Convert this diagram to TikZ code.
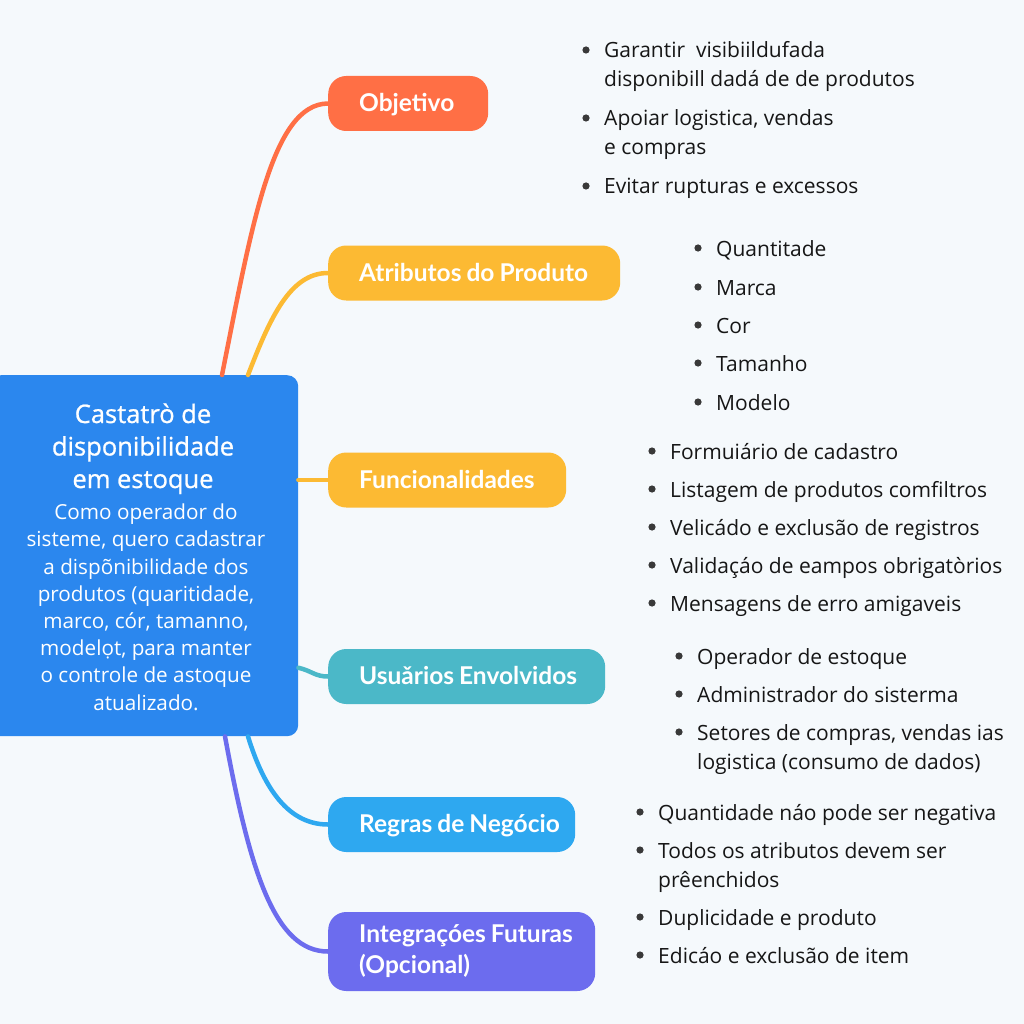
\documentclass[tikz,border=0pt]{standalone}
\usepackage{fontspec}
\setmainfont{Open Sans}
\newfontfamily\labelfont{Lato}
\newfontfamily\titlefont[FakeBold=0.9]{Open Sans}
\usetikzlibrary{calc}
\definecolor{bgc}{HTML}{F5F9FC}
\definecolor{cblue}{HTML}{2B87EE}
\definecolor{corange}{HTML}{FF6F45}
\definecolor{camber}{HTML}{FCBA33}
\definecolor{cteal}{HTML}{4BB8C8}
\definecolor{csky}{HTML}{2EA8F0}
\definecolor{cpurple}{HTML}{6C6CEE}
\definecolor{ctext}{HTML}{161616}
\tikzset{
  branch/.style={rounded corners=18pt, inner xsep=31pt, inner ysep=0pt, minimum height=55pt,
    text=white, align=left, font=\labelfont\bfseries\fontsize{24.5}{31}\selectfont,
    text height=19pt, text depth=3pt},
  link/.style={line width=4.5pt, line cap=round},
  item/.style={anchor=base west, inner sep=0pt, text=ctext, align=left,
    font=\fontsize{21}{29}\selectfont},
  dotb/.style={fill=ctext!85},
}
% bullet beside an item; optional arg = number of extra lines below the first
\newcommand{\bul}[2][0]{\fill[dotb] ($(#2.base west)+(-18,-8-29*#1)$) circle [radius=3.6pt];}
\begin{document}
\begin{tikzpicture}[x=1pt,y=-1pt]
\fill[bgc] (0,0) rectangle (1024,1024);
\useasboundingbox (0,0) rectangle (1024,1024);

% central box
\node[fill=cblue, rounded corners=11pt, minimum width=308pt, minimum height=361pt,
  anchor=north west, inner sep=0pt] (c) at (-10,375) {};
\node[anchor=base, inner sep=0pt, text=white, align=center,
  font=\titlefont\fontsize{25.5}{32.5}\selectfont] (ctitle) at (143,488)
  {Castatrò de\\disponibilidade\\em estoque};
\node[anchor=base, inner sep=0pt, text=white, align=center,
  font=\fontsize{20.7}{27.2}\selectfont] (cbody) at (146,710)
  {Como operador do\\sisteme, quero cadastrar\\a dispõnibilidade dos\\produtos (quaritidade,\\marco, cór, tamanno,\\modelọt, para manter\\o controle de astoque\\atualizado.};

% branch boxes
\node[branch, fill=corange, text width=98pt, anchor=west] (o) at (328,103.5) {\mbox{Objetivo}};
\node[branch, fill=camber, text width=230pt, anchor=west] (a) at (328,273) {\mbox{Atributos\hspace{5pt}do\hspace{5pt}Produto}};
\node[branch, fill=camber, text width=176pt, anchor=west] (f) at (328,480) {\mbox{Funcionalidades}};
\node[branch, fill=cteal, text width=215pt, anchor=west] (u) at (328,676.5) {\mbox{Usuǎrios\hspace{5pt}Envolvidos}};
\node[branch, fill=csky, text width=185pt, anchor=west] (r) at (328,824.5) {\mbox{Regras\hspace{5pt}de\hspace{5pt}Negócio}};
\node[branch, fill=cpurple, text width=205pt, anchor=west, minimum height=79pt,
  text height=, text depth=] (i) at (328,951.5) {\mbox{Integraçóes\hspace{5pt}Futuras}\\\mbox{(Opcional)}};

% connectors
\coordinate (c-o) at ($(c.north west)+(232,0)$);
\coordinate (c-a) at ($(c.north west)+(258,0)$);
\coordinate (c-r) at ($(c.south west)+(258,0)$);
\coordinate (c-i) at ($(c.south west)+(235,0)$);
\draw[link, corange] (c-o) .. controls (252,225) and (272,104) .. (o.west);
\draw[link, camber] (c-a) .. controls (270,318) and (290,273) .. (a.west);
\draw[link, camber] (c.east |- f.west) -- (f.west);
\draw[link, cteal] ($(c.east)+(0,112)$) .. controls (312,671) and (315,676.5) .. (u.west);
\draw[link, csky] (c-r) .. controls (262,782) and (285,824.5) .. (r.west);
\draw[link, cpurple] (c-i) .. controls (250,872) and (275,951.5) .. (i.west);

% Objetivo items
\node[item] (o1) at (604,87) {Garantir\ \ visibiildufada\\disponibill dadá de de produtos}; \bul[1]{o1}
\node[item] (o2) at (604,155) {Apoiar logistica, vendas\\e compras}; \bul[1]{o2}
\node[item] (o3) at (604,194) {Evitar rupturas e excessos}; \bul{o3}

% Atributos items
\node[item] (a1) at (716,256) {Quantitade}; \bul{a1}
\node[item] (a2) at (716,295) {Marca}; \bul{a2}
\node[item] (a3) at (716,333) {Cor}; \bul{a3}
\node[item] (a4) at (716,371) {Tamanho}; \bul{a4}
\node[item] (a5) at (716,410) {Modelo}; \bul{a5}

% Funcionalidades items
\node[item] (f1) at (670,459) {Formuiário de cadastro}; \bul{f1}
\node[item] (f2) at (670,497) {Listagem de produtos comfiltros}; \bul{f2}
\node[item] (f3) at (670,535) {Velicádo e exclusão de registros}; \bul{f3}
\node[item] (f4) at (670,573) {Validaçáo de eampos obrigatòrios}; \bul{f4}
\node[item] (f5) at (670,611) {Mensagens de erro amigaveis}; \bul{f5}

% Usuarios items
\node[item] (u1) at (697,664) {Operador de estoque}; \bul{u1}
\node[item] (u2) at (697,702) {Administrador do sisterma}; \bul{u2}
\node[item] (u3) at (697,769) {Setores de compras, vendas ias\\logistica (consumo de dados)}; \bul[1]{u3}

% Regras items
\node[item] (r1) at (658,820) {Quantidade náo pode ser negativa}; \bul{r1}
\node[item] (r2) at (658,887) {Todos os atributos devem ser\\prêenchidos}; \bul[1]{r2}
\node[item] (r3) at (658,925) {Duplicidade e produto}; \bul{r3}
\node[item] (r4) at (658,963) {Edicáo e exclusão de item}; \bul{r4}
\end{tikzpicture}
\end{document}
